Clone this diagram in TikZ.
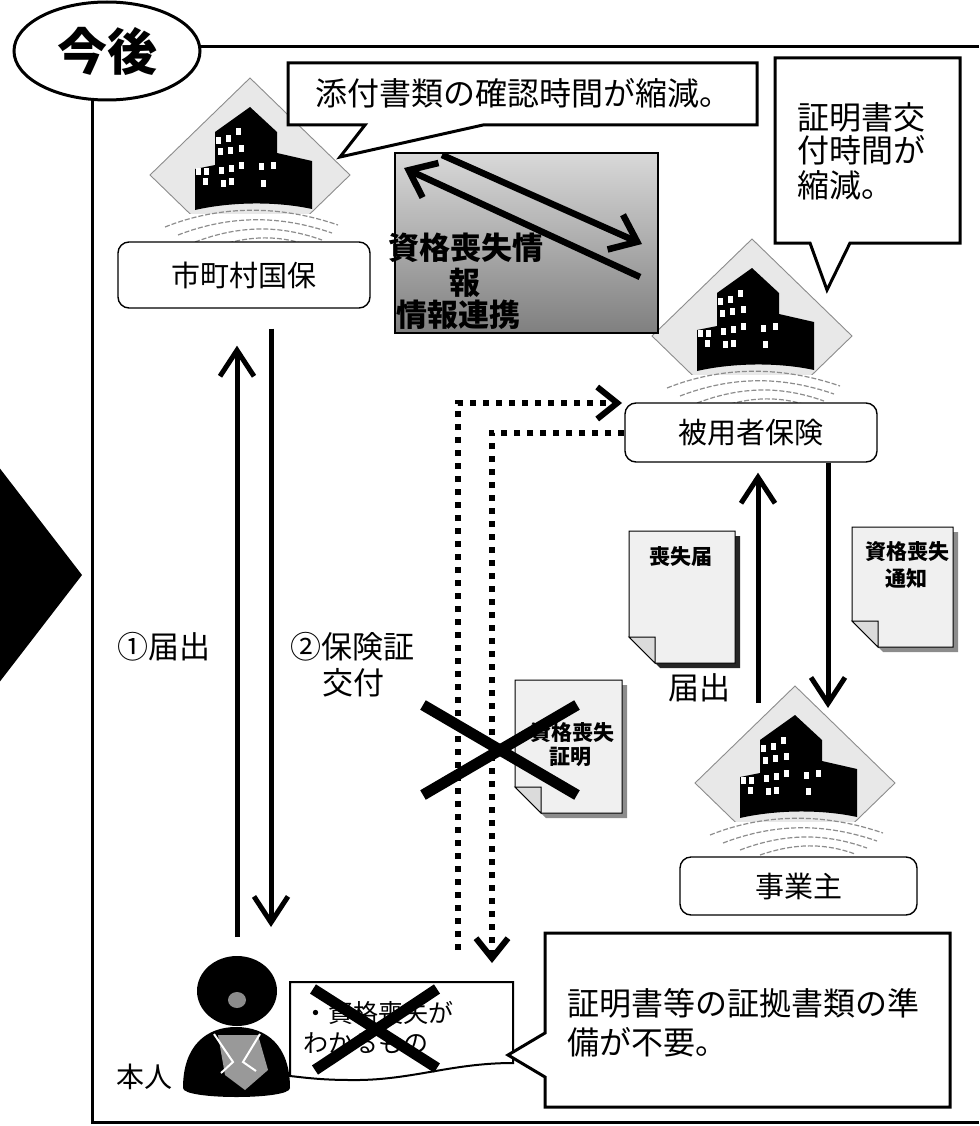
\documentclass[tikz,border=0pt]{standalone}
\usepackage{fontspec}
\setmainfont{Noto Sans CJK JP}
\usetikzlibrary{arrows.meta,shapes.geometric,calc}

% sheet of paper with a folded lower-left corner and a drop shadow
% #1 left, #2 top, #3 width, #4 height, #5 shadow colour
\newcommand\paperdoc[5]{%
  \fill[#5] (#1+5,#2+5) -- (#1+#3+5,#2+5) -- (#1+#3+5,#2+#4+5) -- (#1+31,#2+#4+5) -- (#1+5,#2+#4-21) -- cycle;
  \draw[line width=1pt, fill=black!6] (#1,#2) -- (#1+#3,#2) -- (#1+#3,#2+#4) -- (#1+26,#2+#4) -- (#1,#2+#4-26) -- cycle;
  \draw[line width=1pt, fill=black!14] (#1,#2+#4-26) -- (#1+26,#2+#4-26) -- (#1+26,#2+#4) -- cycle;
}

\begin{document}
\begin{tikzpicture}[x=1pt,y=-1pt,
  lbl/.style={inner sep=0pt},
  unitbox/.style={draw, line width=1.4pt, rounded corners=11pt, fill=white, inner sep=0pt,
    font=\fontsize{29}{34}\selectfont},
  heavy/.style={line width=5pt, -{Straight Barb[length=26pt,width=34pt]}},
  linkarrow/.style={line width=6.5pt, -{Straight Barb[length=24pt,width=38pt]}},
  dotrun/.style={line width=6pt, dash pattern=on 6pt off 7pt, -{Straight Barb[length=20pt,width=32pt]}},
  cross/.style={line width=11pt},
  balloon/.style={draw, line width=3pt, fill=white, line join=miter},
  office/.pic={
    % dotted diamond backdrop
    \begin{scope}
      \clip (-110,-105) rectangle (110,38);
      \draw[fill=black!9, draw=black!45, line width=0.9pt] (0,-97) -- (100,0) -- (0,97) -- (-100,0) -- cycle;
    \end{scope}
    % ground swooshes
    \draw[black!45, line width=1.2pt, dash pattern=on 5pt off 2pt] (-85,52) .. controls (-30,30) and (30,30) .. (88,50);
    \draw[black!45, line width=1.2pt, dash pattern=on 5pt off 2pt] (-72,60) .. controls (-20,40) and (30,40) .. (82,58);
    \draw[black!45, line width=1.2pt, dash pattern=on 5pt off 2pt] (-55,67) .. controls (-10,50) and (30,50) .. (72,65);
    \draw[black!45, line width=1.2pt, dash pattern=on 5pt off 2pt] (-35,72) .. controls (0,60) and (30,60) .. (60,71);
    % building silhouette
    \fill[black] (-55,35) -- (-55,-6) -- (-35,-10) -- (-35,-43) -- (0,-68) -- (27,-43) -- (27,-22)
      -- (62,-14) -- (62,34) .. controls (25,26) and (-20,27) .. cycle;
    % windows
    \foreach \p in {(-31.7,-34.7),(-21.7,-36.3),(-11.7,-43),(-30,-23),(-20,-24.7),(-9,-26.3),
                    (-51.7,-3),(-43.3,-3),(-28.3,-4.7),(-18.3,-6.3),(-8.3,-9.7),(11.7,-8),(23.3,-9.7),
                    (-45,7),(-26.7,8.7),(-18.3,7),(13.3,8.7)}
      \fill[white] \p +(-2.5,-3.5) rectangle +(2.5,3.5);
  }
]
\useasboundingbox (0,0) rectangle (979,1126);

% ---- frame with title ellipse ----
\coordinate (frameTR) at (979,47);
\draw[line width=3pt] (92,99) -- (92,1122) -- (979,1122);
\node[draw, ellipse, line width=3pt, fill=white, minimum width=186pt, minimum height=98pt, inner sep=0pt,
  font=\fontsize{50}{50}\selectfont\bfseries] (now) at (107,51) {今後};
\draw[line width=3pt] (now.3) -- (now.3 -| frameTR);

% big arrow on the left edge
\fill[black] (-2,466) -- (82,575) -- (-2,684) -- cycle;

% ---- offices ----
\pic (bA) at (250,175) {office};
\pic (bB) at (752,336) {office};
\pic (bC) at (795,783) {office};

\node[unitbox, minimum width=252pt, minimum height=66pt] (kokuho) at (244,275) {市町村国保};
\node[unitbox, minimum width=252pt, minimum height=59pt] (hiyosha) at (751,432.5) {被用者保険};
\node[unitbox, minimum width=237pt, minimum height=58pt] (jigyo) at (798.5,886) {事業主};

% ---- speech balloons ----
\draw[balloon] (288,63) -- (757,63) -- (757,125) -- (483,125) -- (340,157) -- (365,125) -- (288,125) -- cycle;
\node[lbl, anchor=west, font=\fontsize{32}{38}\selectfont] (noteA) at (315,93) {添付書類の確認時間が縮減。};

\draw[balloon] (775,58) -- (960,58) -- (960,243) -- (850,243) -- (827,290) -- (810,243) -- (775,243) -- cycle;
\node[lbl, anchor=west, font=\fontsize{32}{38}\selectfont] (noteB1) at (797,117) {証明書交};
\node[lbl, anchor=west, font=\fontsize{32}{38}\selectfont] (noteB2) at (797,150) {付時間が};
\node[lbl, anchor=west, font=\fontsize{32}{38}\selectfont] (noteB3) at (797,185) {縮減。};

% ---- information link panel ----
\node[draw, line width=1.2pt, top color=black!15, bottom color=black!50, minimum width=263pt,
  minimum height=180pt, inner sep=0pt] (info) at (526.5,243) {};
\coordinate (lkA1) at (640,277); \coordinate (lkA2) at (404,168);
\coordinate (lkB1) at (442,155); \coordinate (lkB2) at (642,244);
\draw[linkarrow] (lkA1) -- (lkA2);
\draw[linkarrow] (lkB1) -- (lkB2);
\node[lbl, font=\fontsize{31}{36}\selectfont\bfseries] (infoT1) at (466,248) {資格喪失情};
\node[lbl, font=\fontsize{31}{36}\selectfont\bfseries] (infoT2) at (465,283) {報};
\node[lbl, font=\fontsize{31}{36}\selectfont\bfseries] (infoT3) at (458,315) {情報連携};

% ---- person <-> municipal insurance ----
\coordinate (p1) at (237,937);
\coordinate (p2) at (271,927);
\draw[heavy, shorten >=37pt] (p1) -- (p1 |- kokuho.south);
\draw[heavy, shorten <=20pt] (p2 |- kokuho.south) -- (p2);
\node[lbl, anchor=west, font=\fontsize{31}{36}\selectfont] (stepA) at (117,647) {①届出};
\node[lbl, font=\fontsize{31}{36}\selectfont] (stepB1) at (352,647) {②保険証};
\node[lbl, font=\fontsize{31}{36}\selectfont] (stepB2) at (353,683) {交付};

% ---- employer <-> employee insurance ----
\coordinate (r1) at (758,703);
\coordinate (r2) at (828,708);
\draw[heavy, shorten >=10pt] (r1) -- (r1 |- hiyosha.south);
\draw[heavy] (r2 |- hiyosha.south) -- (r2);
\node[lbl, font=\fontsize{31}{36}\selectfont] (todoke) at (699,688) {届出};

\paperdoc{629}{531}{106}{132}{black!85}
\node[lbl, font=\fontsize{21}{25}\selectfont\bfseries] (docA) at (681,557) {喪失届};
\paperdoc{852}{527}{101}{120}{black!45}
\node[lbl, font=\fontsize{21}{25}\selectfont\bfseries] (docB1) at (907,552) {資格喪失};
\node[lbl, font=\fontsize{21}{25}\selectfont\bfseries] (docB2) at (906,578) {通知};

% ---- abolished paper route ----
\coordinate (dOa) at (458,950); \coordinate (dOb) at (458,403); \coordinate (dOc) at (622,403);
\draw[dotrun] (dOa) -- (dOb) -- (dOc);
\coordinate (dIc) at (492,963);
\draw[dotrun] (hiyosha.west) -- (hiyosha.west -| dIc) -- (dIc);

\paperdoc{515}{680}{107}{133}{black!45}
\node[lbl, font=\fontsize{21}{25}\selectfont\bfseries] (docC1) at (572,733) {資格喪失};
\node[lbl, font=\fontsize{21}{25}\selectfont\bfseries] (docC2) at (570,757) {証明};
\draw[cross] (423,705) -- (577,795);
\draw[cross] (423,795) -- (577,705);

% ---- the insured person ----
\fill[black] (183,1088) .. controls (183,1045) and (207,1027) .. (236,1027)
  .. controls (266,1027) and (290,1045) .. (290,1088) .. controls (290,1100) and (183,1100) .. cycle;
\fill[black!40] (218,1035) -- (258,1035) -- (268,1070) -- (245,1090) -- (225,1075) -- cycle;
\draw[white, line width=2pt] (214,1034) -- (233,1062) -- (221,1073);
\draw[white, line width=2pt] (260,1034) -- (243,1062) -- (256,1071);
\fill[black] (237,991) ellipse [x radius=40, y radius=35];
\fill[black!45] (237,1000) ellipse [x radius=9, y radius=8];
\node[lbl, font=\fontsize{28}{32}\selectfont] (honin) at (144,1077) {本人};

\draw[line width=2pt, fill=white] (290,982) -- (513,982) -- (513,1063)
  .. controls (450,1063) and (410,1081) .. (350,1080) .. controls (320,1080) and (300,1077) .. (290,1076) -- cycle;
\node[lbl, anchor=west, font=\fontsize{25}{30}\selectfont] (proofA) at (303,1013) {・資格喪失が};
\node[lbl, anchor=west, font=\fontsize{25}{30}\selectfont] (proofB) at (303,1043) {わかるもの};
\draw[cross] (313,989) -- (437,1068);
\draw[cross] (437,989) -- (315,1070);

% ---- bottom balloon ----
\draw[balloon] (545,933) -- (950,933) -- (950,1107) -- (545,1107) -- (545,1077) -- (508,1055) -- (545,1033) -- cycle;
\node[lbl, anchor=west, font=\fontsize{32}{38}\selectfont] (noteC1) at (567,1003) {証明書等の証拠書類の準};
\node[lbl, anchor=west, font=\fontsize{32}{38}\selectfont] (noteC2) at (567,1042) {備が不要。};
\end{tikzpicture}
\end{document}
